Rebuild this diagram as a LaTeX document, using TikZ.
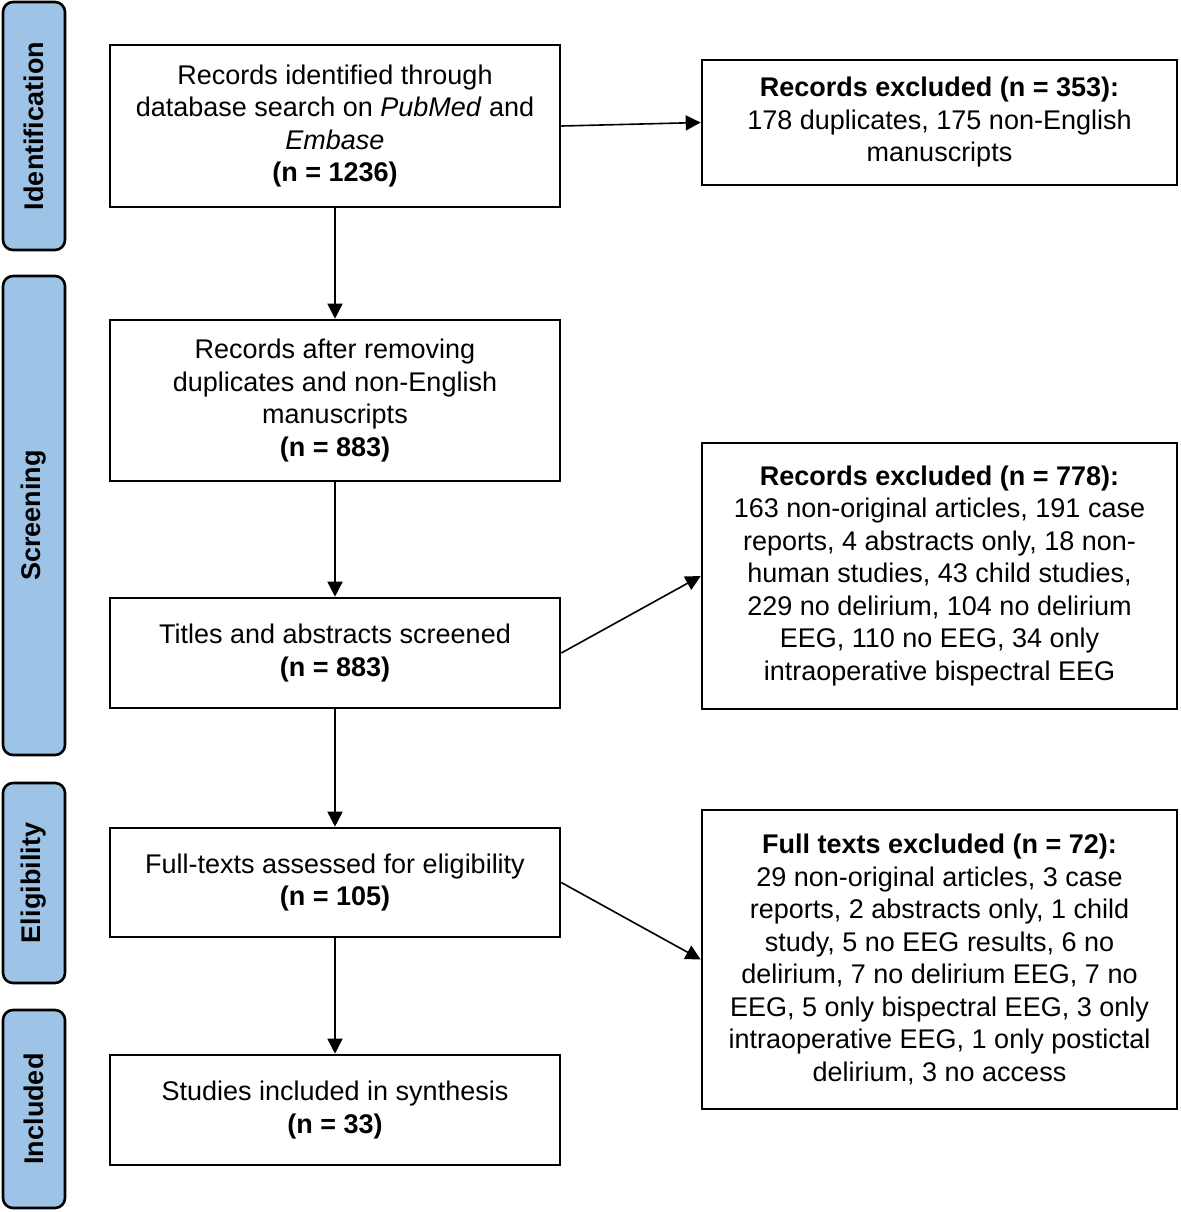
\documentclass[tikz,border=0pt]{standalone}
\usepackage{fontspec}
\setmainfont{Liberation Sans}
\usetikzlibrary{arrows.meta}
\definecolor{sideblue}{RGB}{157,195,230}
\begin{document}
\begin{tikzpicture}[x=0.5pt,y=-0.5pt,
  font=\fontsize{13.5}{16.25}\selectfont,
  box/.style={draw=black,line width=1.3pt,align=center,inner sep=0pt,minimum width=225pt},
  rbox/.style={draw=black,line width=1.3pt,align=center,inner sep=0pt,minimum width=237.5pt},
  side/.style={draw=black,line width=1.3pt,fill=sideblue,rounded corners=5pt,inner sep=0pt,minimum width=31pt,font=\fontsize{13.5}{16.25}\selectfont\bfseries},
  arr/.style={line width=0.8pt,-{Triangle[length=7.5pt,width=7.5pt]}}]
\useasboundingbox (0,0) rectangle (1180,1212);
% side labels
\node[side,minimum height=124pt] (sid) at (34,126) {\rotatebox{90}{Identification}};
\node[side,minimum height=239.5pt] (ssc) at (34,515.5) {\rotatebox{90}{Screening}};
\node[side,minimum height=100pt] (sel) at (34,883) {\rotatebox{90}{Eligibility}};
\node[side,minimum height=99pt] (sin) at (34,1109) {\rotatebox{90}{Included}};
% main boxes
\node[box,minimum height=81pt] (b1) at (335,126) {Records identified through\\database search on \textit{PubMed} and\\\textit{Embase}\\\textbf{(n = 1236)}};
\node[box,minimum height=80.5pt] (b2) at (335,400.5) {Records after removing\\duplicates and non-English\\manuscripts\\\textbf{(n = 883)}};
\node[box,minimum height=55pt] (b3) at (335,653) {Titles and abstracts screened\\\textbf{(n = 883)}};
\node[box,minimum height=54.5pt] (b4) at (335,882.5) {Full-texts assessed for eligibility\\\textbf{(n = 105)}};
\node[box,minimum height=55pt] (b5) at (335,1110) {Studies included in synthesis\\\textbf{(n = 33)}};
% right boxes
\node[rbox,minimum height=62.5pt] (r1) at (939.5,122.5) {\textbf{Records excluded (n = 353):}\\178 duplicates, 175 non-English\\manuscripts};
\node[rbox,minimum height=133pt] (r2) at (939.5,576) {\textbf{Records excluded (n = 778):}\\163 non-original articles, 191 case\\reports, 4 abstracts only, 18 non-\\human studies, 43 child studies,\\229 no delirium, 104 no delirium\\EEG, 110 no EEG, 34 only\\intraoperative bispectral EEG};
\node[rbox,minimum height=149.5pt] (r3) at (939.5,959.5) {\textbf{Full texts excluded (n = 72):}\\29 non-original articles, 3 case\\reports, 2 abstracts only, 1 child\\study, 5 no EEG results, 6 no\\delirium, 7 no delirium EEG, 7 no\\EEG, 5 only bispectral EEG, 3 only\\intraoperative EEG, 1 only postictal\\delirium, 3 no access};
% arrows
\draw[arr] (b1) -- (b2);
\draw[arr] (b2) -- (b3);
\draw[arr] (b3) -- (b4);
\draw[arr] (b4) -- (b5);
\draw[arr] (b1.east) -- (r1.west);
\draw[arr] (b3.east) -- (r2.west);
\draw[arr] (b4.east) -- (r3.west);
\end{tikzpicture}
\end{document}
